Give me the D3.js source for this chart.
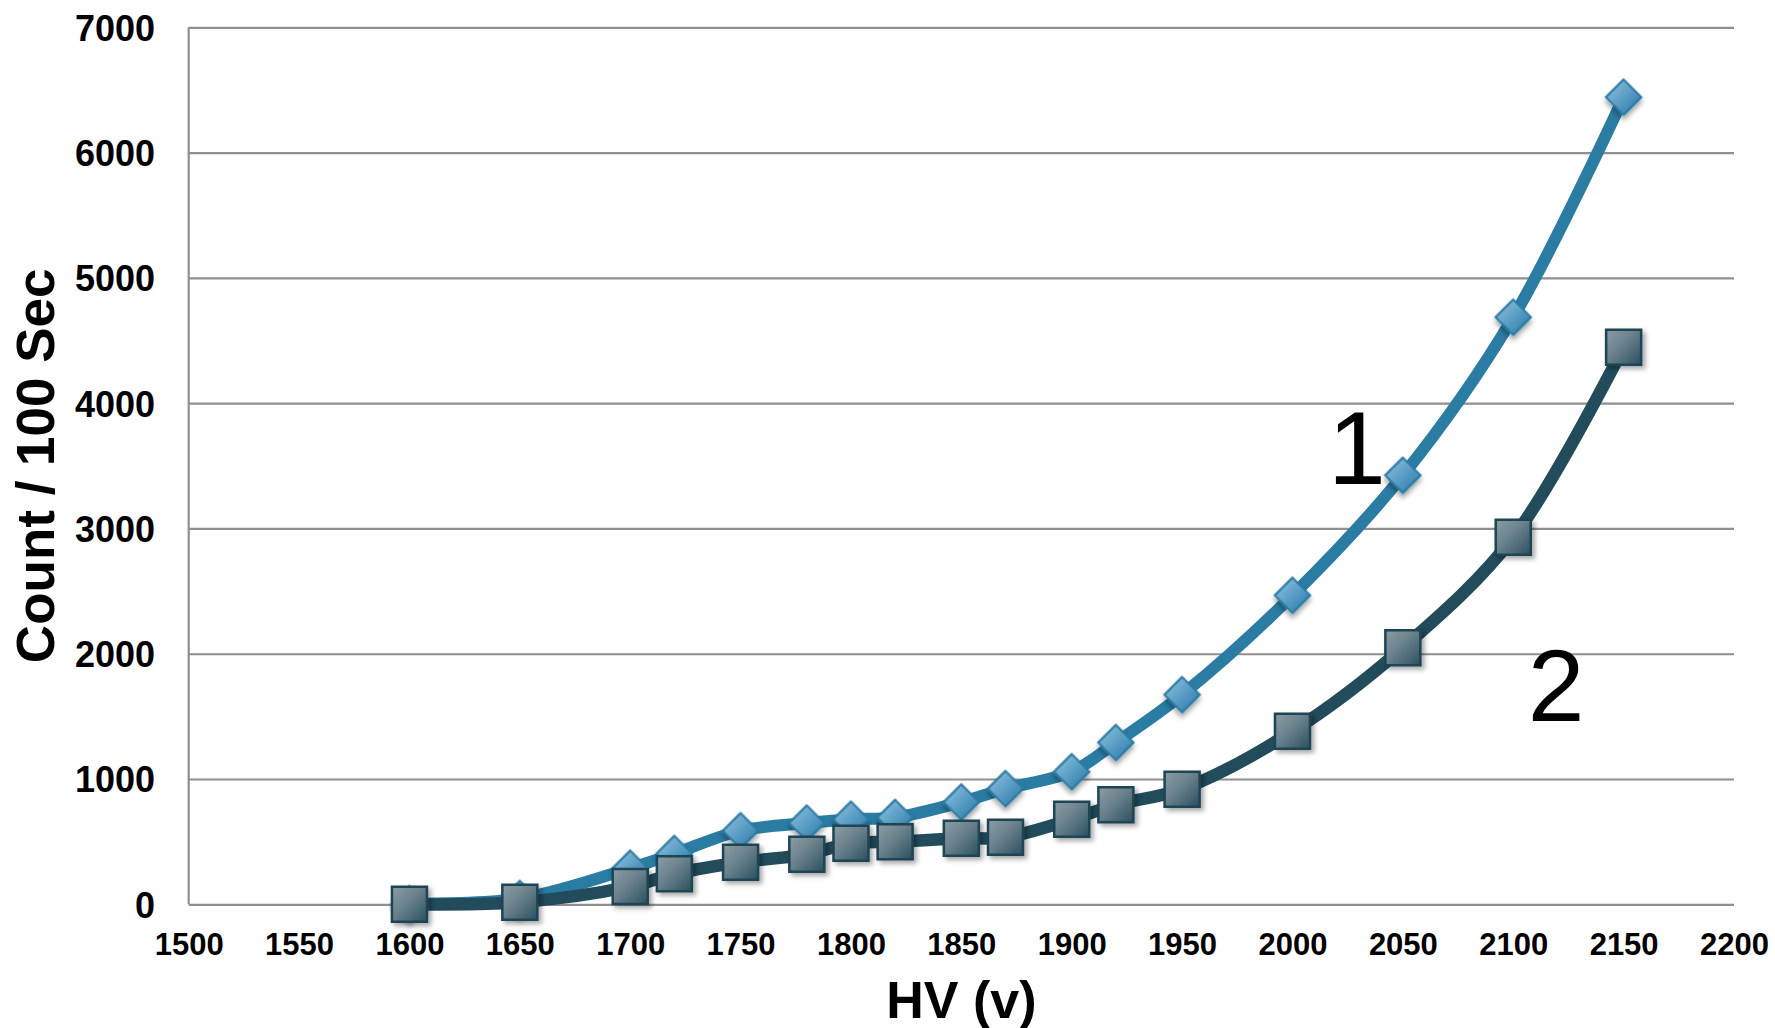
<!DOCTYPE html>
<html>
<head>
<meta charset="utf-8">
<script src="https://cdn.jsdelivr.net/npm/d3@7"></script>
<style>
  html, body { margin: 0; padding: 0; background: #fff; }
  svg { display: block; font-family: Arial, "Liberation Sans", sans-serif; }
</style>
</head>
<body>
<svg id="chart" width="1775" height="1028"></svg>
<script>
// ---- data ----
const hv = [1600, 1650, 1700, 1720, 1750, 1780, 1800, 1820, 1850, 1870, 1900, 1920, 1950, 2000, 2050, 2100, 2150];
const series1 = [5, 46, 288, 405, 587, 648, 679, 693, 816, 923, 1058, 1291, 1673, 2466, 3424, 4686, 6442];
const series2 = [0, 17, 142, 243, 336, 399, 487, 500, 527, 535, 678, 795, 919, 1381, 2048, 2929, 4447];
const xTicks = [1500, 1550, 1600, 1650, 1700, 1750, 1800, 1850, 1900, 1950, 2000, 2050, 2100, 2150, 2200];
const yTicks = [0, 1000, 2000, 3000, 4000, 5000, 6000, 7000];
const seriesLabels = ["1", "2"];
const xTitle = "HV (v)";
const yTitle = "Count / 100 Sec";

(function () {
// ---- layout ----
const pLeft = 188.7, pRight = 1734, pTop = 27.3, pBottom = 904.3;
const svg = d3.select("#chart");
const x = d3.scaleLinear().domain([1500, 2200]).range([pLeft, pRight]);
const y = d3.scaleLinear().domain([0, 7000]).range([pBottom, pTop]);

const defs = svg.append("defs");
const sh = defs.append("filter").attr("id", "shadow").attr("x", "-50%").attr("y", "-50%").attr("width", "200%").attr("height", "200%");
sh.append("feDropShadow").attr("dx", 3).attr("dy", 3).attr("stdDeviation", 2.5).attr("flood-color", "#000").attr("flood-opacity", 0.35);

const gD = defs.append("linearGradient").attr("id", "gDiamond").attr("x1", 0).attr("y1", 0.5).attr("x2", 1).attr("y2", 0.5);
gD.append("stop").attr("offset", "0%").attr("stop-color", "#78b1d3");
gD.append("stop").attr("offset", "100%").attr("stop-color", "#3f8ab6");

const gS = defs.append("linearGradient").attr("id", "gSquare").attr("x1", 0).attr("y1", 0).attr("x2", 1).attr("y2", 1);
gS.append("stop").attr("offset", "0%").attr("stop-color", "#8d9ca4");
gS.append("stop").attr("offset", "45%").attr("stop-color", "#6a818c");
gS.append("stop").attr("offset", "100%").attr("stop-color", "#2b4f5f");

// ---- grid (horizontal) ----
const grid = svg.append("g").attr("transform", `translate(${pLeft},0)`)
  .call(d3.axisLeft(y).tickValues(yTicks).tickSize(-(pRight - pLeft)).tickFormat(""));
grid.select(".domain").remove();
grid.selectAll(".tick line").attr("stroke", "#8f8f8f").attr("stroke-width", 2.2);

// y axis line
svg.append("line").attr("x1", pLeft).attr("x2", pLeft).attr("y1", pTop).attr("y2", pBottom)
  .attr("stroke", "#8f8f8f").attr("stroke-width", 2.2);

// y tick labels
const yAx = svg.append("g").attr("transform", `translate(155,0)`)
  .call(d3.axisLeft(y).tickValues(yTicks).tickSize(0).tickPadding(0).tickFormat(d3.format("d")));
yAx.select(".domain").remove();
yAx.selectAll("text").attr("font-size", 36).attr("font-weight", "bold").attr("fill", "#000")
  .attr("font-family", "Arial, 'Liberation Sans', sans-serif").attr("dy", "0.36em");

// x tick labels
const xAx = svg.append("g").attr("transform", `translate(0,${pBottom})`)
  .call(d3.axisBottom(x).tickValues(xTicks).tickSize(0).tickPadding(0).tickFormat(d3.format("d")));
xAx.select(".domain").remove();
xAx.selectAll("text").attr("font-size", 31).attr("font-weight", "bold").attr("fill", "#000")
  .attr("font-family", "Arial, 'Liberation Sans', sans-serif").attr("dy", null).attr("y", 51);

// titles
svg.append("text").attr("x", (pLeft + pRight) / 2).attr("y", 1018).attr("text-anchor", "middle")
  .attr("font-size", 52).attr("font-weight", "bold").attr("fill", "#000").text(xTitle);
svg.append("text").attr("transform", `translate(54,${(pTop + pBottom) / 2}) rotate(-90)`).attr("text-anchor", "middle")
  .attr("font-size", 53).attr("font-weight", "bold").attr("fill", "#000").text(yTitle);

// ---- series ----
const line = d3.line().x(d => x(d[0])).y(d => y(d[1])).curve(d3.curveCatmullRom.alpha(0.5));
const d1 = hv.map((v, i) => [v, series1[i]]);
const d2 = hv.map((v, i) => [v, series2[i]]);

svg.append("path").datum(d1).attr("d", line).attr("fill", "none")
  .attr("stroke", "#2a7ca3").attr("stroke-width", 12).attr("stroke-linejoin", "round");
svg.append("g").selectAll("path").data(d1).join("path")
  .attr("d", d3.symbol(d3.symbolSquare, 25 * 25))
  .attr("transform", d => `translate(${x(d[0])},${y(d[1])}) rotate(45)`)
  .attr("fill", "url(#gDiamond)").attr("stroke", "#2a7aa3").attr("stroke-width", 2.2)
  .attr("filter", "url(#shadow)");

svg.append("path").datum(d2).attr("d", line).attr("fill", "none")
  .attr("stroke", "#224b5b").attr("stroke-width", 12.5).attr("stroke-linejoin", "round");
svg.append("g").selectAll("path").data(d2).join("path")
  .attr("d", d3.symbol(d3.symbolSquare, 35 * 35))
  .attr("transform", d => `translate(${x(d[0])},${y(d[1])})`)
  .attr("fill", "url(#gSquare)").attr("stroke", "#1f4454").attr("stroke-width", 2.5)
  .attr("filter", "url(#shadow)");

// series labels
svg.append("text").attr("x", 1357).attr("y", 484).attr("text-anchor", "middle")
  .attr("font-size", 104).attr("fill", "#000").text(seriesLabels[0]);
svg.append("text").attr("x", 1556).attr("y", 721).attr("text-anchor", "middle")
  .attr("font-size", 102).attr("fill", "#000").text(seriesLabels[1]);
})();
</script>
</body>
</html>
